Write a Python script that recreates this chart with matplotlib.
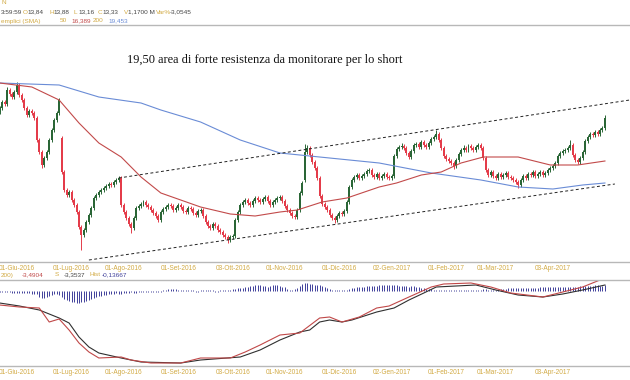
import numpy as np
import matplotlib
matplotlib.use("Agg")
import matplotlib.pyplot as plt
import pandas as pd

# daily candles (price units, one value per trading day)
opens = [188, 192, 198, 196, 210, 206, 203, 208, 215, 205, 200, 192, 185, 189, 187, 182, 160, 148, 135, 142,
         148, 160, 170, 180, 187, 162, 128, 110, 105, 108, 100, 95, 88, 73, 65, 70, 78, 85, 92, 102,
         105, 108, 110, 112, 114, 116, 115, 118, 120, 122, 95, 88, 82, 76, 72, 82, 92, 94, 96, 98,
         95, 93, 90, 87, 84, 80, 88, 91, 93, 95, 94, 90, 92, 95, 93, 89, 88, 92, 91, 87,
         85, 89, 90, 84, 78, 74, 72, 76, 74, 70, 68, 65, 63, 60, 63, 64, 80, 88, 95, 98,
         100, 97, 95, 99, 102, 100, 98, 101, 103, 99, 95, 98, 100, 102, 103, 99, 94, 90, 87, 84,
         83, 90, 107, 120, 148, 152, 145, 138, 132, 122, 104, 96, 93, 90, 85, 82, 80, 84, 87, 86,
         89, 98, 113, 120, 123, 125, 122, 124, 126, 129, 130, 125, 123, 126, 122, 124, 126, 123, 122, 124,
         144, 151, 153, 154, 152, 147, 143, 149, 155, 156, 153, 158, 155, 153, 157, 161, 163, 166, 160, 152,
         144, 141, 139, 137, 134, 140, 146, 150, 152, 150, 154, 152, 150, 153, 155, 152, 142, 130, 125, 128,
         124, 122, 126, 123, 125, 127, 123, 122, 120, 118, 115, 120, 124, 122, 126, 125, 128, 124, 126, 128,
         125, 127, 130, 132, 134, 137, 144, 147, 149, 150, 152, 155, 145, 140, 138, 142, 148, 159, 163, 166,
         165, 168, 166, 170, 172]
closes = [192, 198, 196, 210, 206, 203, 208, 215, 205, 200, 192, 185, 189, 187, 182, 160, 148, 135, 142, 148,
          160, 170, 180, 187, 200, 128, 110, 105, 108, 100, 95, 88, 73, 65, 70, 78, 85, 92, 102, 105,
          108, 110, 112, 114, 116, 115, 118, 120, 122, 95, 88, 82, 76, 72, 82, 92, 94, 96, 98, 95,
          93, 90, 87, 84, 80, 88, 91, 93, 95, 94, 90, 92, 95, 93, 89, 88, 92, 91, 87, 85,
          89, 90, 84, 78, 74, 72, 76, 74, 70, 68, 65, 63, 60, 63, 64, 80, 88, 95, 98, 100,
          97, 95, 99, 102, 100, 98, 101, 103, 99, 95, 98, 100, 102, 103, 99, 94, 90, 87, 84, 83,
          90, 107, 117, 148, 152, 145, 138, 132, 122, 104, 96, 93, 90, 85, 82, 80, 84, 87, 86, 89,
          98, 113, 120, 123, 125, 122, 124, 126, 129, 130, 125, 123, 126, 122, 124, 126, 123, 122, 124, 144,
          151, 153, 154, 152, 147, 143, 149, 155, 156, 153, 158, 155, 153, 157, 161, 163, 166, 160, 152, 144,
          141, 139, 137, 134, 140, 146, 150, 152, 150, 154, 152, 150, 153, 155, 152, 142, 130, 125, 128, 124,
          122, 126, 123, 125, 127, 123, 122, 120, 118, 115, 120, 124, 122, 126, 125, 128, 124, 126, 128, 125,
          127, 130, 132, 134, 137, 144, 147, 149, 150, 152, 155, 145, 140, 138, 142, 148, 159, 163, 166, 165,
          168, 166, 170, 172, 182]
highs = [194, 200, 200, 213, 212, 208, 210, 218, 217, 207, 202, 194, 191, 191, 189, 184, 162, 150, 144, 150,
         162, 172, 182, 189, 202, 164, 130, 112, 110, 110, 102, 97, 90, 75, 72, 80, 87, 94, 104, 107,
         110, 112, 114, 116, 118, 118, 120, 122, 124, 124, 97, 90, 84, 78, 84, 94, 96, 98, 100, 100,
         97, 95, 92, 89, 86, 90, 93, 95, 97, 97, 96, 94, 97, 97, 95, 91, 94, 94, 93, 89,
         91, 92, 92, 86, 80, 76, 78, 78, 76, 72, 70, 67, 65, 65, 66, 82, 90, 97, 100, 102,
         102, 99, 101, 104, 104, 102, 103, 105, 105, 101, 100, 102, 104, 105, 105, 101, 96, 92, 89, 86,
         92, 109, 119, 156, 155, 154, 147, 140, 134, 124, 106, 98, 95, 92, 87, 84, 86, 89, 89, 91,
         100, 115, 122, 125, 127, 127, 126, 128, 131, 132, 132, 127, 128, 128, 126, 128, 128, 125, 126, 146,
         153, 155, 157, 156, 154, 149, 151, 157, 158, 158, 160, 160, 157, 159, 163, 165, 170, 168, 162, 154,
         146, 143, 141, 139, 142, 148, 152, 155, 154, 156, 156, 154, 155, 157, 157, 154, 144, 132, 130, 130,
         126, 128, 128, 127, 129, 129, 125, 124, 122, 120, 122, 126, 126, 128, 128, 130, 130, 128, 130, 130,
         129, 132, 134, 136, 139, 146, 149, 151, 152, 154, 160, 157, 147, 142, 144, 150, 161, 165, 168, 168,
         170, 170, 172, 174, 185]
lows = [186, 190, 194, 194, 204, 201, 201, 206, 203, 198, 190, 183, 183, 185, 180, 158, 146, 132, 133, 140,
        146, 158, 168, 178, 185, 126, 108, 103, 103, 98, 93, 86, 71, 50, 63, 68, 76, 83, 90, 100,
        103, 106, 108, 110, 112, 113, 113, 116, 118, 93, 86, 80, 74, 67, 70, 80, 90, 92, 94, 93,
        91, 88, 85, 82, 78, 78, 86, 89, 91, 92, 88, 88, 90, 91, 87, 86, 86, 89, 85, 83,
        83, 87, 82, 76, 72, 70, 70, 72, 68, 66, 63, 61, 57, 58, 61, 62, 78, 86, 93, 96,
        95, 93, 93, 97, 98, 96, 96, 99, 97, 93, 93, 96, 98, 100, 97, 92, 88, 85, 82, 81,
        81, 88, 105, 118, 146, 143, 136, 130, 120, 102, 94, 91, 88, 83, 80, 77, 78, 82, 84, 84,
        87, 96, 111, 118, 121, 120, 120, 122, 124, 127, 123, 121, 121, 120, 120, 122, 121, 120, 120, 122,
        142, 149, 151, 150, 145, 141, 141, 147, 153, 151, 151, 153, 151, 151, 155, 159, 161, 158, 150, 142,
        139, 137, 135, 131, 132, 138, 144, 148, 148, 148, 150, 148, 148, 151, 150, 140, 128, 123, 123, 122,
        120, 120, 121, 121, 123, 121, 120, 118, 116, 112, 113, 118, 120, 120, 123, 123, 122, 122, 124, 123,
        123, 125, 128, 130, 132, 135, 142, 145, 147, 148, 150, 143, 138, 136, 136, 140, 146, 157, 161, 163,
        163, 164, 164, 168, 170]

# moving averages read at a few dates (bar index, value)
sma50_idx = [0, 13, 24, 32, 40, 49, 57, 65, 81, 93, 103, 113, 120, 130, 140, 153, 160, 170, 178, 186, 195, 209, 222, 233, 244]
sma50_val = [217, 213, 200, 177, 157, 143, 123, 107, 93, 86, 84, 88, 90, 98, 102, 113, 117, 125, 128, 137, 143, 143, 135, 135, 139]
sma200_idx = [0, 24, 40, 57, 65, 81, 97, 113, 133, 153, 174, 194, 209, 223, 235, 244]
sma200_val = [217, 215, 203, 197, 190, 178, 160, 147, 142, 137, 127, 120, 113, 111, 115, 117]

# trend channel (bar index, value)
upper_idx = [48, 254]
upper_val = [122, 200]
lower_idx = [36, 248]
lower_val = [40, 116]

# MACD panel
macd_idx = [0, 8, 16, 20, 24, 28, 32, 36, 40, 49, 53, 61, 73, 81, 93, 99, 105, 113, 121, 129, 133, 138, 145, 152, 157, 165, 174, 179, 190, 198, 206, 219, 227, 235, 244]
macd_val = [-14, -16, -17, -31, -28, -39, -52, -61, -67, -66, -69, -72, -72, -67, -67, -61, -54, -44, -42, -27, -26, -31, -26, -17, -15, -6, 4, 7, 8, 4, -2, -6, -1, 4, 13]
sig_idx = [0, 8, 16, 24, 28, 32, 36, 40, 49, 57, 73, 81, 97, 105, 113, 121, 125, 129, 133, 138, 142, 152, 159, 165, 171, 176, 192, 200, 209, 219, 227, 235, 244]
sig_val = [-12, -15, -19, -27, -32, -46, -56, -62, -67, -71, -72, -69, -66, -59, -49, -41, -39, -31, -29, -31, -29, -21, -17, -9, -2, 4, 6, 1, -4, -6, -3, 1, 6]
hist = [-1, -1, -1, -1, -1, -2, -2, -2, -2, -2, -2, -2, -2, -3, -3, -3, -6, -7, -7, -6,
        -5, -4, -3, -3, -4, -6, -8, -9, -10, -11, -11, -12, -12, -11, -11, -10, -9, -8, -7, -6,
        -5, -5, -4, -4, -3, -3, -3, -2, -3, -3, -2, -2, -2, -1, -2, -2, -1, -1, -1, -1,
        -1, -1, -1, -1, -1, -1, 1, 1, 2, 2, 2, 2, 1, 1, 1, 1, 1, 1, 1, -1,
        -1, 1, 1, 1, 1, 1, 1, -1, -1, 1, 1, 1, 1, 1, 2, 2, 3, 3, 3, 4,
        4, 5, 5, 6, 6, 6, 5, 5, 4, 5, 6, 6, 6, 5, 4, 4, 2, 1, 1, 2,
        3, 5, 7, 8, 8, 7, 7, 6, 6, 6, 5, 4, 3, 2, 1, 1, 1, 1, 1, 1,
        1, 2, 3, 3, 4, 4, 4, 4, 5, 5, 5, 5, 5, 6, 6, 6, 6, 6, 6, 6,
        6, 5, 5, 5, 5, 4, 5, 5, 4, 4, 3, 3, 2, 2, 2, 1, 1, 1, 1, 1,
        1, 1, 1, 1, 1, 1, 1, 1, 1, 1, 1, 1, 1, 1, 1, 2, 2, 1, 1, 1,
        1, 1, 2, 2, 2, 3, 3, 3, 3, 3, 3, 3, 3, 3, 3, 3, 3, 3, 4, 4,
        4, 4, 4, 4, 4, 4, 4, 4, 4, 4, 4, 4, 4, 4, 5, 5, 5, 5, 5, 5,
        6, 6, 5, 5, 6]

tick_dates = ["2016-06-01", "2016-07-01", "2016-08-01", "2016-09-01", "2016-10-03", "2016-11-01",
              "2016-12-01", "2017-01-02", "2017-02-01", "2017-03-01", "2017-04-03"]
tick_labels = ["01-Giu-2016", "01-Lug-2016", "01-Ago-2016", "01-Set-2016", "03-Ott-2016", "01-Nov-2016",
               "01-Dic-2016", "02-Gen-2017", "01-Feb-2017", "01-Mar-2017", "03-Apr-2017"]
holidays = ["2016-08-15", "2016-12-26", "2017-04-14", "2017-04-17", "2017-05-01"]

n = len(closes)
dates = pd.bdate_range("2016-05-23", periods=n, freq="C", holidays=holidays)
tick_pos = [dates.get_loc(pd.Timestamp(d)) for d in tick_dates]
x = np.arange(n)

GOLD = "#d2aa44"
GRAY = "#b8b8b8"
DARK = "#444444"
W, H = 630, 380

fig = plt.figure(figsize=(6.3, 3.8), dpi=100)
ax = fig.add_axes([0, 1 - 262 / H, 1, (262 - 25) / H])
ax2 = fig.add_axes([0, 1 - 366 / H, 1, (366 - 280) / H])

for a in (ax, ax2):
    a.set_xlim(0.16, 254.1)
    for s in ("left", "right"):
        a.spines[s].set_visible(False)
    for s in ("top", "bottom"):
        a.spines[s].set_color(GRAY)
        a.spines[s].set_linewidth(1)
    a.set_yticks([])
    a.set_xticks(tick_pos, tick_labels, fontsize=4.7, color=GOLD, family="Liberation Sans")
    a.tick_params(axis="x", length=0, pad=2)

ax.set_ylim(38, 275)
ax2.set_ylim(-75, 11)

o = np.array(opens)
c = np.array(closes)
cols = np.where(c >= o, "#2a6636", "#e43c4a")
ax.vlines(x, lows, highs, colors=cols, lw=0.7)
ax.bar(x, np.maximum(np.abs(c - o), 1.0), bottom=np.minimum(o, c), width=0.8, color=cols, linewidth=0)

ax.plot(sma200_idx, sma200_val, color="#6a8cd6", lw=0.8)
ax.plot(sma50_idx, sma50_val, color="#c24a4a", lw=0.8)
ax.plot(upper_idx, upper_val, color="#222222", lw=0.7, ls=(0, (3, 2.5)))
ax.plot(lower_idx, lower_val, color="#222222", lw=0.7, ls=(0, (3, 2.5)))

ax2.vlines(x, 0, hist, colors="#40409a", lw=0.7)
ax2.plot(sig_idx, sig_val, color="#303030", lw=0.8)
ax2.plot(macd_idx, macd_val, color="#c04848", lw=0.8)


def ptext(px, py, s, color, size=4.6, **kw):
    fig.text(px / W, 1 - py / H, s, color=color, fontsize=size, va="center",
             family="Liberation Sans", **kw)


ptext(2, 3, "N", GOLD)
for px, s, col in [(1, "3:59:59", DARK), (23, "O", GOLD), (27, "13,84", DARK), (49, "H", GOLD),
                   (53, "13,88", DARK), (74, "L", GOLD), (78, "13,16", DARK), (98, "C", GOLD),
                   (102, "13,33", DARK), (124, "V", GOLD), (128, "1,1700 M", DARK), (156, "Var%", GOLD),
                   (170, "-3,0545", DARK)]:
    ptext(px, 12, s, col)
for px, s, col in [(1, "emplici (SMA)", GOLD), (60, "50", GOLD), (71, "16,389", "#c24a4a"),
                   (93, "200", GOLD), (108, "19,453", "#6a8cd6")]:
    ptext(px, 21, s, col)
for px, s, col in [(1, "200)", GOLD), (22, "-3,4904", "#c04848"), (55, "S", GOLD), (64, "-3,3537", DARK),
                   (89, "Hist", GOLD), (102, "-0,13667", "#40409a")]:
    ptext(px, 275, s, col)

fig.text(127 / W, 1 - 60 / H, "19,50 area di forte resistenza da monitorare per lo short",
         family="Liberation Serif", fontsize=8.9, va="center", color="#111111")

fig.savefig("out.png", dpi=100)
